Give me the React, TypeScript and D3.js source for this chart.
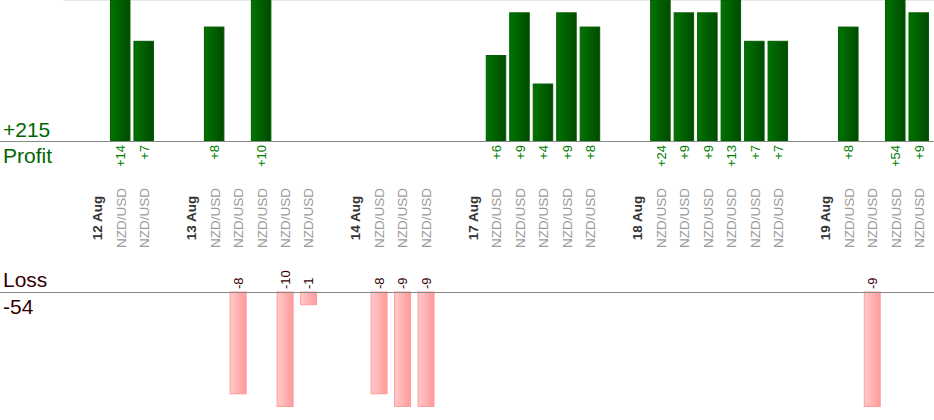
import * as d3 from "d3";

const symbol = "NZD/USD";
const days = ["12 Aug", "13 Aug", "14 Aug", "17 Aug", "18 Aug", "19 Aug"];
const dayResults = [
  [14, 7],
  [8, -8, 10, -10, -1],
  [-8, -9, -9],
  [6, 9, 4, 9, 8],
  [24, 9, 9, 13, 7, 7],
  [8, -9, 54, 9],
];

const width = 934;
const height = 420;
const profitBase = 141;
const lossBase = 292;

type Slot = { kind: "gap" | "date" | "trade"; label: string; value: number };

const App = () => {
  // one empty slot, then the date, then that day's trades
  const slots: Slot[] = [];
  days.forEach((d, i) => {
    slots.push({ kind: "gap", label: "", value: 0 });
    slots.push({ kind: "date", label: d, value: 0 });
    dayResults[i].forEach((v) => slots.push({ kind: "trade", label: symbol, value: v }));
  });

  const trades = slots.filter((s) => s.kind === "trade");
  const totalProfit = d3.sum(trades, (s) => (s.value > 0 ? s.value : 0));
  const totalLoss = d3.sum(trades, (s) => (s.value < 0 ? -s.value : 0));

  const x = d3
    .scaleBand<number>()
    .domain(slots.map((_, i) => i))
    .range([62, 931]);
  const step = x.step();

  const yProfit = d3.scaleLinear().domain([0, 9.9]).range([profitBase, 0]).clamp(true);
  const yLoss = d3.scaleLinear().domain([0, 9]).range([lossBase, 406.5]).clamp(true);

  const font = "Arial, 'Liberation Sans', sans-serif";

  return (
    <svg
      width={width}
      height={height}
      style={{ position: "fixed", left: 0, top: 0, background: "#fff" }}
      fontFamily={font}
    >
      <defs>
        <linearGradient id="gProfit" x1="0" x2="1" y1="0" y2="0">
          <stop offset="0" stopColor="#007400" />
          <stop offset="1" stopColor="#004a00" />
        </linearGradient>
        <linearGradient id="gLoss" x1="0" x2="1" y1="0" y2="0">
          <stop offset="0" stopColor="#ffcaca" />
          <stop offset="1" stopColor="#ff9a9a" />
        </linearGradient>
      </defs>

      <line x1={63} x2={width} y1={0.5} y2={0.5} stroke="#e8e8e8" />

      {slots.map((s, i) => {
        if (s.kind !== "trade" || s.value <= 0) return null;
        const w = step * 0.83;
        const cx = x(i)! + step / 2;
        const top = yProfit(s.value);
        return (
          <rect
            key={"p" + i}
            x={cx - w / 2 - 0.5}
            y={top}
            width={w}
            height={profitBase - top}
            fill="url(#gProfit)"
            stroke="#005c00"
            strokeWidth={1}
          />
        );
      })}

      {slots.map((s, i) => {
        if (s.kind !== "trade" || s.value >= 0) return null;
        const w = step * 0.68;
        const cx = x(i)! + step / 2;
        const bottom = yLoss(-s.value);
        return (
          <rect
            key={"l" + i}
            x={cx - w / 2}
            y={lossBase}
            width={w}
            height={bottom - lossBase}
            fill="url(#gLoss)"
            stroke="#ff9c9c"
            strokeWidth={1}
          />
        );
      })}

      <line x1={0} x2={width} y1={profitBase + 0.5} y2={profitBase + 0.5} stroke="#888" />
      <line x1={0} x2={width} y1={lossBase + 0.5} y2={lossBase + 0.5} stroke="#888" />

      {/* value labels */}
      {slots.map((s, i) => {
        if (s.kind !== "trade") return null;
        const cx = x(i)! + step / 2;
        if (s.value > 0) {
          return (
            <text
              key={"vp" + i}
              transform={`translate(${cx},145) rotate(-90)`}
              textAnchor="end"
              dy="0.36em"
              fontSize={13}
              fill="#008000"
            >
              {"+" + s.value}
            </text>
          );
        }
        return (
          <text
            key={"vl" + i}
            transform={`translate(${cx},289) rotate(-90)`}
            textAnchor="start"
            dy="0.36em"
            fontSize={13}
            fill="#330000"
          >
            {String(s.value)}
          </text>
        );
      })}

      {/* category labels */}
      {slots.map((s, i) => {
        if (s.kind === "gap") return null;
        const cx = x(i)! + step / 2;
        return (
          <text
            key={"c" + i}
            transform={`translate(${cx},218) rotate(-90)`}
            textAnchor="middle"
            dy="0.36em"
            fontSize={13.5}
            fontWeight={s.kind === "date" ? "bold" : "normal"}
            fill={s.kind === "date" ? "#333" : "#9a9a9a"}
          >
            {s.label}
          </text>
        );
      })}

      <text x={3} y={137} fontSize={21} fill="#006600">
        {"+" + totalProfit}
      </text>
      <text x={3} y={163} fontSize={21} fill="#006600">
        Profit
      </text>
      <text x={3} y={287} fontSize={21} fill="#330000">
        Loss
      </text>
      <text x={3} y={314} fontSize={21} fill="#330000">
        {"-" + totalLoss}
      </text>
    </svg>
  );
};

export default App;
